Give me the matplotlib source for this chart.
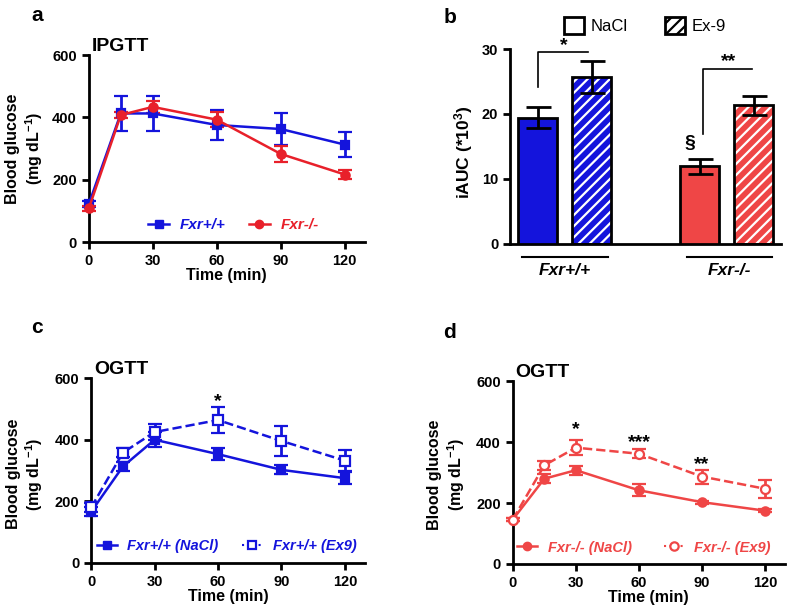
import numpy as np
import matplotlib
matplotlib.use("Agg")
import matplotlib.pyplot as plt
from matplotlib.patches import Patch
from matplotlib.lines import Line2D

plt.rcParams['font.family'] = ['Liberation Sans', 'DejaVu Sans']
plt.rcParams['font.weight'] = 'bold'
plt.rcParams['axes.labelweight'] = 'bold'
plt.rcParams['mathtext.fontset'] = 'custom'
plt.rcParams['mathtext.rm'] = 'Liberation Sans:bold'
plt.rcParams['mathtext.default'] = 'rm'
plt.rcParams['hatch.linewidth'] = 1.6

# datos
tiempo = [0, 15, 30, 60, 90, 120]

ipgtt_wt = [122, 413, 413, 376, 363, 313]
ipgtt_wt_err = [10, 56, 57, 47, 50, 40]
ipgtt_ko = [108, 408, 434, 393, 283, 217]
ipgtt_ko_err = [8, 10, 20, 25, 25, 15]

grupos = ['Fxr+/+', 'Fxr-/-']
tratamientos = ['NaCl', 'Ex-9']
iauc = [19.4, 25.7, 11.9, 21.3]
iauc_err = [1.6, 2.5, 1.2, 1.4]

ogtt_wt_nacl = [166, 313, 400, 353, 302, 275]
ogtt_wt_nacl_err = [15, 15, 25, 20, 15, 20]
ogtt_wt_ex9 = [180, 358, 425, 464, 396, 332]
ogtt_wt_ex9_err = [15, 15, 25, 42, 48, 33]

ogtt_ko_nacl = [146, 280, 308, 242, 203, 175]
ogtt_ko_nacl_err = [5, 15, 15, 20, 5, 5]
ogtt_ko_ex9 = [146, 324, 382, 362, 287, 247]
ogtt_ko_ex9_err = [5, 15, 25, 15, 23, 30]

# asteriscos (x, y, texto)
sig_c = [(60, 525, '*')]
sig_d = [(30, 442, '*'), (60, 400, '***'), (90, 326, '**')]

azul = '#1414dc'
rojo = '#e8202a'
rojo_claro = '#ef4646'

fig = plt.figure(figsize=(8, 6.13), dpi=100)


def estilo_curva(ax, titulo):
    ax.spines['top'].set_visible(False)
    ax.spines['right'].set_visible(False)
    for s in ['left', 'bottom']:
        ax.spines[s].set_linewidth(2)
    ax.set_xlim(0, 129.4)
    ax.set_ylim(0, 600)
    ax.set_xticks([0, 30, 60, 90, 120])
    ax.set_yticks([0, 200, 400, 600])
    ax.tick_params(width=2, length=5, labelsize=10.5)
    ax.set_xlabel('Time (min)', fontsize=11.5, labelpad=0)
    ax.set_ylabel('Blood glucose\n(mg dL$^{-1}$)', fontsize=11.5, linespacing=1.15)
    ax.text(0.01, 1.0, titulo, transform=ax.transAxes, ha='left', va='bottom',
            fontsize=14, fontweight='bold')


def curva(ax, y, err, color, marker, hueco=False, ls='-', label=''):
    ax.errorbar(tiempo, y, yerr=err, color=color, lw=1.8, ls=ls,
                marker=marker, markersize=6.5 if hueco else 6,
                markerfacecolor='white' if hueco else color,
                markeredgewidth=1.6, elinewidth=2, capsize=5, capthick=2,
                label=label, clip_on=False, zorder=3)


def leyenda(ax, handles, textos, color, x0, sep, size):
    ax.legend(handles, textos, loc='center left', bbox_to_anchor=(x0, 0.09),
              ncol=2, frameon=False, handlelength=1.4, handletextpad=0.7,
              columnspacing=sep, borderaxespad=0, borderpad=0,
              prop={'size': size, 'weight': 'bold', 'style': 'italic'},
              labelcolor=[color[0], color[1]])


# ---- a: IPGTT
ax_a = fig.add_axes([0.111, 0.605, 0.345, 0.305])
curva(ax_a, ipgtt_wt, ipgtt_wt_err, azul, 's', label='Fxr+/+')
curva(ax_a, ipgtt_ko, ipgtt_ko_err, rojo, 'o', label='Fxr-/-')
estilo_curva(ax_a, 'IPGTT')
ax_a.yaxis.set_label_coords(-0.16, 0.5)
handles = [Line2D([], [], color=azul, marker='s', lw=1.8, markersize=6),
           Line2D([], [], color=rojo, marker='o', lw=1.8, markersize=6)]
leyenda(ax_a, handles, grupos, [azul, rojo], 0.214, 1.5, 11)

# ---- b: iAUC barras
ax_b = fig.add_axes([0.6375, 0.6025, 0.3388, 0.3175])
pos = [0, 1, 3, 4]
colores = [azul, azul, rojo_claro, rojo_claro]
for i in range(4):
    if i % 2 == 1:
        ax_b.bar(pos[i], iauc[i], width=0.72, color=colores[i], edgecolor='white',
                 hatch='///', linewidth=0, zorder=2)
        ax_b.bar(pos[i], iauc[i], width=0.72, fill=False, edgecolor='black',
                 linewidth=2, zorder=3)
    else:
        ax_b.bar(pos[i], iauc[i], width=0.72, color=colores[i], edgecolor='black',
                 linewidth=2, zorder=3)
ax_b.errorbar(pos, iauc, yerr=iauc_err, fmt='none', ecolor='black', elinewidth=2,
              capsize=9, capthick=2, zorder=4)
ax_b.set_xlim(-0.51, 4.51)
ax_b.set_ylim(0, 30)
ax_b.set_yticks([0, 10, 20, 30])
ax_b.set_xticks([])
ax_b.spines['top'].set_visible(False)
ax_b.spines['right'].set_visible(False)
for s in ['left', 'bottom']:
    ax_b.spines[s].set_linewidth(2)
ax_b.tick_params(width=2, length=5, labelsize=10.5)
ax_b.set_ylabel('iAUC (*10$^{3}$)', fontsize=12.5)
ax_b.yaxis.set_label_coords(-0.13, 0.47)
tr = ax_b.get_xaxis_transform()
for (x0, x1), g in zip([(-0.29, 1.31), (2.77, 4.34)], grupos):
    ax_b.plot([x0, x1], [-0.068, -0.068], color='black', lw=1.5, transform=tr, clip_on=False)
    ax_b.text((x0 + x1) / 2, -0.1, g, transform=tr, ha='center', va='top',
              fontsize=12.5, fontweight='bold', fontstyle='italic')
# corchetes de significancia
ax_b.plot([0.01, 0.01, 0.93], [24.1, 29.5, 29.5], color='black', lw=1.2, clip_on=False)
ax_b.text(0.49, 29.3, '*', ha='center', va='bottom', fontsize=14)
ax_b.plot([3.06, 3.06, 3.97], [16.9, 26.9, 26.9], color='black', lw=1.2)
ax_b.text(3.53, 26.7, '**', ha='center', va='bottom', fontsize=14)
ax_b.text(2.82, 15.5, '§', ha='center', va='center', fontsize=14)
ley = [Patch(facecolor='white', edgecolor='black', lw=2),
       Patch(facecolor='white', edgecolor='black', lw=2, hatch='///')]
ax_b.legend(ley, tratamientos, loc='center left', bbox_to_anchor=(0.2, 1.12), ncol=2,
            frameon=False, handlelength=1.2, handleheight=1.2, handletextpad=0.4,
            columnspacing=2.2, borderpad=0, borderaxespad=0,
            prop={'size': 12, 'weight': 'normal'})

# ---- c: OGTT Fxr+/+
ax_c = fig.add_axes([0.114, 0.082, 0.342, 0.301])
curva(ax_c, ogtt_wt_nacl, ogtt_wt_nacl_err, azul, 's')
curva(ax_c, ogtt_wt_ex9, ogtt_wt_ex9_err, azul, 's', hueco=True, ls='--')
estilo_curva(ax_c, 'OGTT')
ax_c.yaxis.set_label_coords(-0.168, 0.48)
for x, y, t in sig_c:
    ax_c.text(x, y, t, ha='center', va='center', fontsize=14)
handles = [Line2D([], [], color=azul, marker='s', lw=1.8, markersize=6),
           Line2D([], [], color=azul, marker='s', lw=1.5, ls=':', markersize=6,
                  markerfacecolor='white', markeredgewidth=1.6)]
leyenda(ax_c, handles, ['Fxr+/+ (NaCl)', 'Fxr+/+ (Ex9)'], [azul, azul], 0.02, 1.6, 10.5)

# ---- d: OGTT Fxr-/-
ax_d = fig.add_axes([0.641, 0.080, 0.340, 0.298])
curva(ax_d, ogtt_ko_nacl, ogtt_ko_nacl_err, rojo_claro, 'o')
curva(ax_d, ogtt_ko_ex9, ogtt_ko_ex9_err, rojo_claro, 'o', hueco=True, ls='--')
estilo_curva(ax_d, 'OGTT')
ax_d.yaxis.set_label_coords(-0.17, 0.49)
for x, y, t in sig_d:
    ax_d.text(x, y, t, ha='center', va='center', fontsize=14)
handles = [Line2D([], [], color=rojo_claro, marker='o', lw=1.8, markersize=6),
           Line2D([], [], color=rojo_claro, marker='o', lw=1.5, ls=':', markersize=6,
                  markerfacecolor='white', markeredgewidth=1.6)]
leyenda(ax_d, handles, ['Fxr-/- (NaCl)', 'Fxr-/- (Ex9)'], [rojo_claro, rojo_claro],
        0.015, 2.2, 10.5)

# letras de panel
for x, y, l in [(0.046, 0.975, 'a'), (0.562, 0.972, 'b'), (0.046, 0.465, 'c'), (0.562, 0.458, 'd')]:
    fig.text(x, y, l, ha='center', va='center', fontsize=15, fontweight='bold')

fig.savefig('out.png', dpi=100)
